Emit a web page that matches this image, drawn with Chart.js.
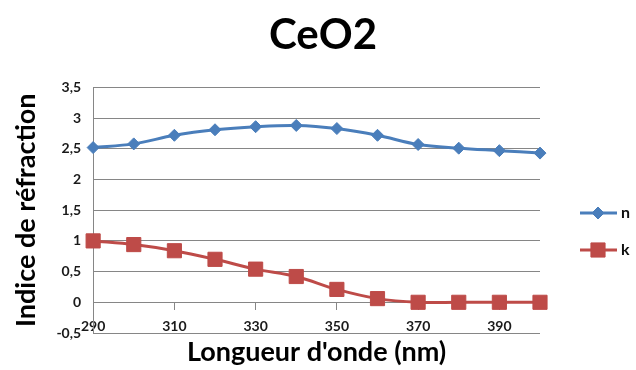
<!DOCTYPE html>
<html>
<head>
<meta charset="utf-8">
<script src="https://cdn.jsdelivr.net/npm/chart.js@4/dist/chart.umd.min.js"></script>
<style>
  html, body { margin: 0; padding: 0; background: #ffffff; }
  #wrap { width: 636px; height: 370px; }
</style>
</head>
<body>
<div id="wrap"><canvas id="ceo2"></canvas></div>
<script>
const longueurs = [290, 300, 310, 320, 330, 340, 350, 360, 370, 380, 390, 400];
const indice_n = [2.52, 2.58, 2.72, 2.81, 2.86, 2.88, 2.83, 2.72, 2.57, 2.51, 2.47, 2.43];
const indice_k = [1.0, 0.94, 0.84, 0.70, 0.54, 0.42, 0.21, 0.06, 0, 0, 0, 0];

const police = "Lato, 'Open Sans', sans-serif";

// legende a droite (trait + marqueur comme dans Excel), dans sa propre boite
// pour que le titre reste centre sur toute la largeur
const legendeExcel = {
    id: 'legendeExcel',
    beforeInit(chart) {
        const boite = {
            position: 'right',
            weight: 0,
            fullSize: false,
            options: {},
            left: 0, top: 0, right: 0, bottom: 0, width: 0, height: 0,
            isHorizontal() { return false; },
            update(maxWidth, maxHeight) {
                this.width = 96;
                this.height = maxHeight;
            },
            draw() {
                const c = chart.ctx;
                const x0 = this.left + 40;
                chart.data.datasets.forEach((ds, i) => {
                    const y = 213 + i * 37;
                    c.save();
                    c.strokeStyle = ds.borderColor;
                    c.fillStyle = ds.backgroundColor;
                    c.lineWidth = 3;
                    c.beginPath();
                    c.moveTo(x0, y);
                    c.lineTo(x0 + 37, y);
                    c.stroke();
                    c.lineWidth = 1;
                    Chart.helpers.drawPoint(c, {
                        pointStyle: ds.pointStyle,
                        radius: ds.pointRadius,
                        borderWidth: 1
                    }, x0 + 18, y);
                    c.fillStyle = '#111';
                    c.font = 'bold 16px ' + police;
                    c.textBaseline = 'middle';
                    c.fillText(ds.label, x0 + 41, y);
                    c.restore();
                });
            }
        };
        Chart.layouts.addBox(chart, boite);
    }
};

const ctx_ceo2 = document.getElementById("ceo2");
new Chart(ctx_ceo2, {
    type: 'line',
    data: {
        labels: longueurs,
        datasets: [
            {
                label: 'n',
                data: indice_n,
                borderColor: '#4A7EBB',
                backgroundColor: '#4A7EBB',
                borderWidth: 3,
                pointStyle: 'rectRot',
                pointRadius: 6,
                pointBorderWidth: 1,
                tension: 0.35
            },
            {
                label: 'k',
                data: indice_k,
                borderColor: '#BE4B48',
                backgroundColor: '#BE4B48',
                borderWidth: 3,
                pointStyle: 'rect',
                pointRadius: 10,
                pointBorderWidth: 1,
                tension: 0.35
            }
        ]
    },
    options: {
        responsive: true,
        maintainAspectRatio: false,
        animation: false,
        layout: { padding: { left: 10, right: 0, top: 0, bottom: 37 } },
        plugins: {
            legend: { display: false },
            tooltip: { enabled: false },
            title: {
                display: true,
                text: 'CeO2',
                color: '#000',
                font: { family: police, size: 42, weight: 'bold' },
                padding: { top: 10, bottom: 27 }
            }
        },
        scales: {
            x: {
                position: { y: 0 },
                offset: false,
                grid: {
                    display: true,
                    drawOnChartArea: false,
                    drawTicks: true,
                    tickLength: 7,
                    color: '#868686'
                },
                border: { color: '#868686', width: 1 },
                ticks: {
                    autoSkip: false,
                    maxRotation: 0,
                    padding: 9,
                    color: '#1a1a1a',
                    font: { family: police, size: 14, weight: 'bold' },
                    callback: function (v, i) {
                        return i % 2 === 0 ? this.getLabelForValue(v) : null;
                    }
                },
                title: {
                    display: true,
                    text: "Longueur d'onde (nm)",
                    color: '#000',
                    font: { family: police, size: 27, weight: 'bold' },
                    padding: { top: -8, bottom: 0 }
                }
            },
            y: {
                min: -0.5,
                max: 3.5,
                grid: { color: '#868686', drawTicks: false },
                border: { color: '#868686', width: 1 },
                ticks: {
                    stepSize: 0.5,
                    padding: 12,
                    color: '#1a1a1a',
                    font: { family: police, size: 14, weight: 'bold' },
                    callback: (v) => String(v).replace('.', ',')
                },
                title: {
                    display: true,
                    text: 'Indice de réfraction',
                    color: '#000',
                    font: { family: police, size: 27, weight: 'bold' },
                    padding: { top: 0, bottom: 2 }
                }
            }
        }
    },
    plugins: [legendeExcel]
});
</script>
</body>
</html>
